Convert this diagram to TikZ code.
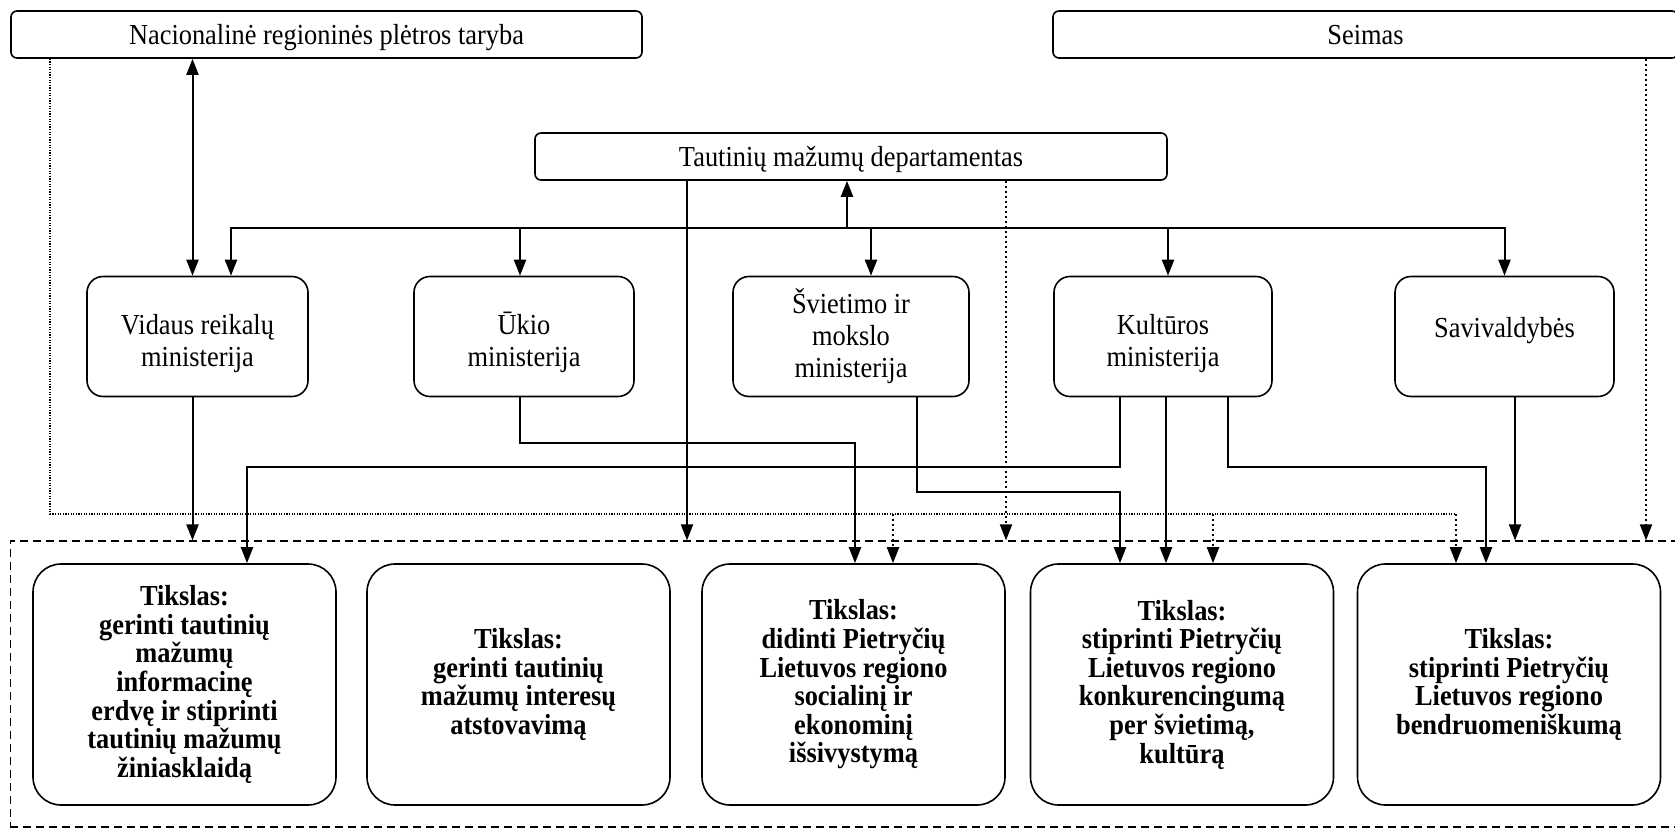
\documentclass[tikz,border=0pt]{standalone}
\usepackage{fontspec}
\setmainfont{Liberation Serif}[FakeStretch=0.91]
\usetikzlibrary{arrows.meta,calc}

\begin{document}
\begin{tikzpicture}[x=0.5pt, y=-0.5pt,
  every node/.style={font=\fontsize{14.5}{16}\selectfont},
  topbox/.style={draw, rounded corners=3pt, line width=0.8pt, minimum height=23.5pt, inner sep=0pt, text height=10pt, text depth=0pt},
  minbox/.style={draw, rounded corners=8pt, line width=0.8pt, minimum width=110pt, minimum height=60pt, align=center, inner sep=0pt},
  goalbox/.style={draw, rounded corners=14pt, line width=0.8pt, minimum width=151.5pt, minimum height=120.5pt, align=center, inner sep=0pt, font=\fontsize{14.5}{14.3}\selectfont\bfseries},
  goalframe/.style={draw, dash pattern=on 4pt off 2.5pt, line width=0.6pt, minimum width=839.75pt, minimum height=143pt, inner sep=0pt},
  link/.style={line width=1pt},
  arr/.style={link, -{Triangle[length=8pt, width=6pt]}},
  dotarr/.style={line width=1pt, dash pattern=on 1pt off 1.5pt, -{Triangle[length=8pt, width=6pt]}},
  thindot/.style={line width=0.6pt, dash pattern=on 0.6pt off 0.7pt},
]
\useasboundingbox (0,0) rectangle (1675,830);

% TOP -- institutions
\node[topbox, minimum width=315.5pt] (nrpt) at (326.5,34.5) {Nacionalinė regioninės plėtros taryba};
\node[topbox, minimum width=312.5pt] (seimas) at (1365.5,34.5) {Seimas};
\node[topbox, minimum width=316pt] (tmd) at (851,156.5) {Tautinių mažumų departamentas};

% MIDDLE -- ministries
\node[minbox, minimum width=110.5pt] (vidaus) at (197.5,336.5) {\rule{0pt}{17pt}Vidaus reikalų\\ministerija};
\node[minbox] (ukio) at (524,336.5) {\rule{0pt}{17pt}Ūkio\\ministerija};
\node[minbox, minimum width=118pt] (svietimo) at (851,336.5) {Švietimo ir\\mokslo\\ministerija};
\node[minbox, minimum width=109pt] (kulturos) at (1163,336.5) {\rule{0pt}{17pt}Kultūros\\ministerija};
\node[minbox, minimum width=109.5pt] (saviv) at (1504.5,336.5) {\rule{0pt}{17pt}Savivaldybės\\\mbox{}};

% BOTTOM -- goals
\node[goalframe] (goals) at (850,684) {};
\node[goalbox] (g1) at (184.5,684.5) {Tikslas:\\gerinti tautinių\\mažumų\\informacinę\\erdvę ir stiprinti\\tautinių mažumų\\žiniasklaidą};
\node[goalbox] (g2) at (518.5,684.5) {Tikslas:\\gerinti tautinių\\mažumų interesų\\atstovavimą};
\node[goalbox] (g3) at (853.5,684.5) {Tikslas:\\didinti Pietryčių\\Lietuvos regiono\\socialinį ir\\ekonominį\\išsivystymą};
\node[goalbox] (g4) at (1182,684.5) {Tikslas:\\stiprinti Pietryčių\\Lietuvos regiono\\konkurencingumą\\per švietimą,\\kultūrą};
\node[goalbox] (g5) at (1509,684.5) {Tikslas:\\stiprinti Pietryčių\\Lietuvos regiono\\bendruomeniškumą};

% levels of the connector lines
\coordinate (bus) at (847,228);
\coordinate (lvlA) at (0,443);
\coordinate (lvlB) at (0,467);
\coordinate (lvlC) at (0,492);
\coordinate (lvlD) at (0,514);

% NRPT <-> Vidaus reikalu
\draw[link, {Triangle[length=8pt, width=6pt]}-{Triangle[length=8pt, width=6pt]}] ([xshift=-2.5pt]vidaus.north) -- ([xshift=-2.5pt]vidaus.north |- nrpt.south);

% departamentas <-> ministries
\draw[arr] (bus) -- (bus |- tmd.south);
\draw[arr] (bus) -| ([xshift=16.75pt]vidaus.north);
\draw[arr] (bus) -| (saviv.north);
\draw[arr] ([xshift=-2pt]ukio.north |- bus) -- ([xshift=-2pt]ukio.north);
\draw[arr] ([xshift=10pt]svietimo.north |- bus) -- ([xshift=10pt]svietimo.north);
\draw[arr] ([xshift=2.5pt]kulturos.north |- bus) -- ([xshift=2.5pt]kulturos.north);

% down to the goals frame
\draw[arr] ([xshift=-2.5pt]vidaus.south) -- ([xshift=-2.5pt]vidaus.south |- goals.north);
\draw[arr] ([xshift=-82pt]tmd.south) -- ([xshift=-82pt]tmd.south |- goals.north);
\draw[dotarr] ([xshift=77.5pt]tmd.south) -- ([xshift=77.5pt]tmd.south |- goals.north);
\draw[dotarr] ([xshift=140.25pt]seimas.south) -- ([xshift=140.25pt]seimas.south |- goals.north);
\draw[arr] ([xshift=5.25pt]saviv.south) -- ([xshift=5.25pt]saviv.south |- goals.north);

% ministries -> single goals
\draw[arr] ([xshift=-2pt]ukio.south) |- ([xshift=0.75pt]g3.north |- lvlA) -- ([xshift=0.75pt]g3.north);
\draw[arr] ([xshift=33pt]svietimo.south) |- ([xshift=-31pt]g4.north |- lvlC) -- ([xshift=-31pt]g4.north);
\draw[arr] ([xshift=-21.5pt]kulturos.south) |- ([xshift=31.25pt]g1.north |- lvlB) -- ([xshift=31.25pt]g1.north);
\draw[arr] ([xshift=1.5pt]kulturos.south) -- ([xshift=1.5pt]kulturos.south |- g4.north);
\draw[arr] ([xshift=32.25pt]kulturos.south) |- ([xshift=-11.5pt]g5.north |- lvlB) -- ([xshift=-11.5pt]g5.north);

% NRPT dotted line
\draw[thindot] ([xshift=-138.25pt]nrpt.south) |- ([xshift=-26.5pt]g5.north |- lvlD);
\draw[dotarr] ([xshift=-26.5pt]g5.north |- lvlD) -- ([xshift=-26.5pt]g5.north);
\draw[dotarr] ([xshift=19.75pt]g3.north |- lvlD) -- ([xshift=19.75pt]g3.north);
\draw[dotarr] ([xshift=15.5pt]g4.north |- lvlD) -- ([xshift=15.5pt]g4.north);

\end{tikzpicture}
\end{document}
